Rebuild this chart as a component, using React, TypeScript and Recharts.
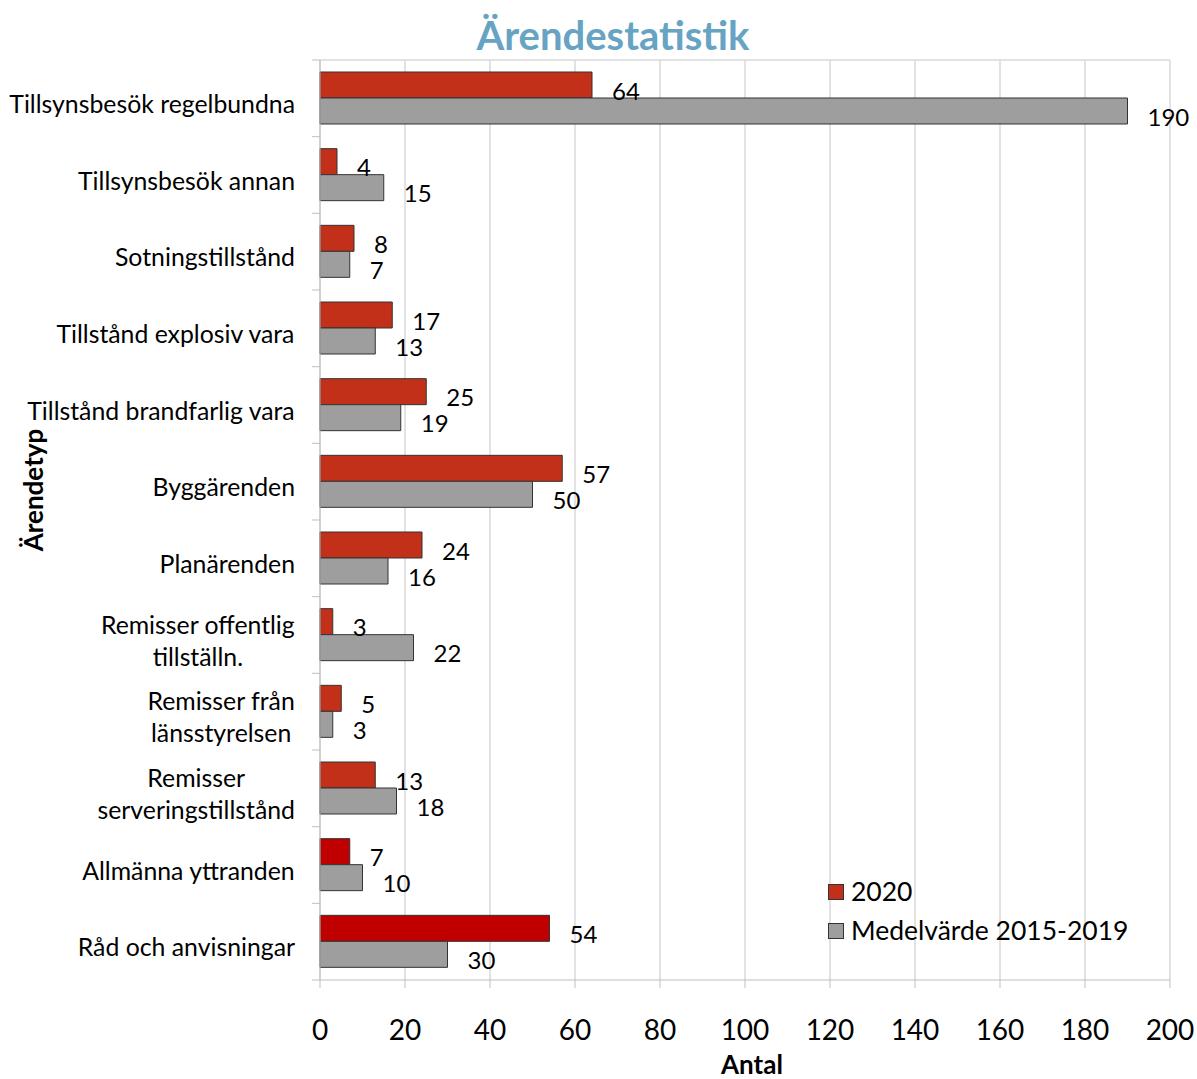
import React from 'react';
import {
  BarChart,
  Bar,
  XAxis,
  YAxis,
  CartesianGrid,
  LabelList,
  Cell,
  Label,
} from 'recharts';

// categories (line breaks as in the original axis labels)
const categories = [
  'Tillsynsbesök regelbundna',
  'Tillsynsbesök annan',
  'Sotningstillstånd',
  'Tillstånd explosiv vara',
  'Tillstånd brandfarlig vara',
  'Byggärenden',
  'Planärenden',
  'Remisser offentlig\ntillställn.',
  'Remisser från\nlänsstyrelsen',
  'Remisser\nserveringstillstånd',
  'Allmänna yttranden',
  'Råd och anvisningar',
];

const values2020 = [64, 4, 8, 17, 25, 57, 24, 3, 5, 13, 7, 54];
const valuesAvg = [190, 15, 7, 13, 19, 50, 16, 22, 3, 18, 10, 30];

const xTicks = [0, 20, 40, 60, 80, 100, 120, 140, 160, 180, 200];

const FONT = 'Lato, "Open Sans", sans-serif';
const RED = '#C3301A';
const DARK_RED = '#C00000';
const GREY = '#9E9E9E';

const data = categories.map((name, i) => ({
  name,
  y2020: values2020[i],
  avg: valuesAvg[i],
}));

let measureCtx: CanvasRenderingContext2D | null = null;
const textWidth = (s: string, size: number) => {
  if (!measureCtx) measureCtx = document.createElement('canvas').getContext('2d');
  if (!measureCtx) return s.length * size * 0.5;
  measureCtx.font = `${size}px Lato`;
  return measureCtx.measureText(s).width;
};

const CAT_SIZE = 24.8;

const CategoryTick = (props: any) => {
  const { x, y, payload, index } = props;
  const lines: string[] = String(payload.value).split('\n');
  const half = payload.offset || 0;
  const maxW = Math.max(...lines.map((l) => textWidth(l, CAT_SIZE)));
  const cx = x - maxW / 2;
  const lh = 32;
  const startY = y + 5 - ((lines.length - 1) * lh) / 2;
  const axisX = x + 17;
  return (
    <g>
      <line x1={axisX} x2={axisX + 8} y1={y - half} y2={y - half} stroke="#BFBFBF" />
      {index === categories.length - 1 && (
        <line x1={axisX} x2={axisX + 8} y1={y + half} y2={y + half} stroke="#BFBFBF" />
      )}
      {lines.map((l, i) => (
        <text
          key={i}
          x={cx}
          y={startY + i * lh}
          textAnchor="middle"
          dominantBaseline="central"
          fontFamily={FONT}
          fontSize={CAT_SIZE}
          fill="#000"
        >
          {l}
        </text>
      ))}
    </g>
  );
};

const ValueLabel = (props: any) => {
  const { x, y, width, height, value } = props;
  return (
    <text
      x={x + width + 20}
      y={y + height / 2 + 5}
      dominantBaseline="central"
      fontFamily={FONT}
      fontSize={24}
      fill="#000"
    >
      {value}
    </text>
  );
};

const legendItems = [
  { c: RED, t: '2020' },
  { c: GREY, t: 'Medelvärde 2015-2019' },
];

export default function App() {
  return (
    <div style={{ position: 'absolute', left: 0, top: 0, width: 1197, height: 1079, background: '#fff' }}>
      <div
        style={{
          position: 'absolute',
          top: 11,
          left: 0,
          width: 1226,
          textAlign: 'center',
          fontFamily: FONT,
          fontWeight: 700,
          fontSize: 40,
          lineHeight: '48px',
          color: '#67A3C3',
          zIndex: 2,
        }}
      >
        Ärendestatistik
      </div>
      <div
        style={{
          position: 'absolute',
          left: 828,
          top: 872,
          fontFamily: FONT,
          fontSize: 26.5,
          color: '#000',
          lineHeight: '39px',
          zIndex: 2,
        }}
      >
        {legendItems.map((e) => (
          <div key={e.t} style={{ display: 'flex', alignItems: 'center' }}>
            <span
              style={{
                display: 'inline-block',
                width: 14,
                height: 14,
                background: e.c,
                border: '1px solid #333',
                marginRight: 7,
              }}
            />
            {e.t}
          </div>
        ))}
      </div>
      <BarChart
        width={1197}
        height={1079}
        data={data}
        layout="vertical"
        margin={{ top: 60, right: 27, bottom: 0, left: 0 }}
        barCategoryGap={12}
        barGap={0}
      >
        <CartesianGrid
          stroke="#D9D9D9"
          strokeWidth={1.5}
          horizontalCoordinatesGenerator={({ offset }: any) => [offset.top]}
        />
        <XAxis
          type="number"
          domain={[0, 200]}
          ticks={xTicks}
          height={99}
          stroke="#BFBFBF"
          tickSize={8}
          tickMargin={32}
          tick={{ fontFamily: FONT, fontSize: 28, fill: '#000' }}
        >
          <Label
            value="Antal"
            position="insideBottom"
            offset={5}
            dx={7}
            style={{ fontFamily: FONT, fontSize: 26, fontWeight: 700, fill: '#000' }}
          />
        </XAxis>
        <YAxis
          type="category"
          dataKey="name"
          width={320}
          stroke="#BFBFBF"
          tickLine={false}
          tickSize={8}
          tickMargin={17}
          interval={0}
          tick={<CategoryTick />}
        >
          <Label
            value="Ärendetyp"
            angle={-90}
            position="insideLeft"
            offset={34}
            dy={-30}
            style={{ fontFamily: FONT, fontSize: 26, fontWeight: 700, fill: '#000', textAnchor: 'middle' }}
          />
        </YAxis>
        <Bar dataKey="y2020" name="2020" fill={RED} stroke="#333" strokeWidth={1} isAnimationActive={false}>
          {data.map((_, i) => (
            <Cell key={i} fill={i >= 10 ? DARK_RED : RED} />
          ))}
          <LabelList dataKey="y2020" content={<ValueLabel />} />
        </Bar>
        <Bar dataKey="avg" name="Medelvärde 2015-2019" fill={GREY} stroke="#333" strokeWidth={1} isAnimationActive={false}>
          <LabelList dataKey="avg" content={<ValueLabel />} />
        </Bar>
      </BarChart>
    </div>
  );
}
